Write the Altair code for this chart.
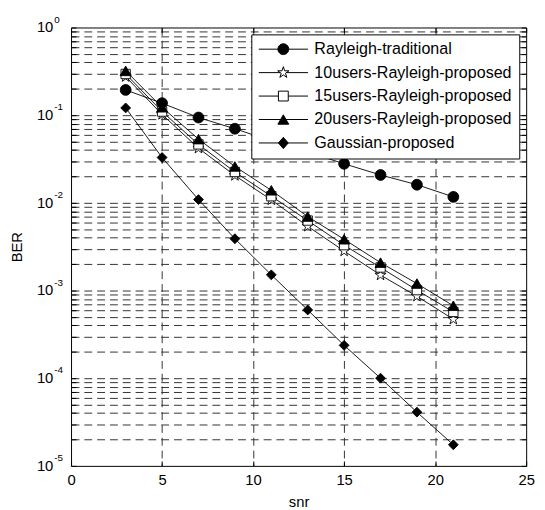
import math
import altair as alt
import pandas as pd

FONT = "Liberation Sans"

# ---------------- data ----------------
snr = [3, 5, 7, 9, 11, 13, 15, 17, 19, 21]
series_names = [
    "Rayleigh-traditional",
    "10users-Rayleigh-proposed",
    "15users-Rayleigh-proposed",
    "20users-Rayleigh-proposed",
    "Gaussian-proposed",
]
ber_rayleigh_traditional = [0.194, 0.137, 0.094, 0.070, 0.051, 0.038, 0.0279, 0.0208, 0.0161, 0.0117]
ber_10users = [0.275, 0.102, 0.042, 0.0205, 0.0108, 0.0054, 0.00282, 0.0015, 0.00086, 0.00047]
ber_15users = [0.295, 0.110, 0.0464, 0.0225, 0.0119, 0.00628, 0.00329, 0.00183, 0.00101, 0.00057]
ber_20users = [0.32, 0.123, 0.0533, 0.026, 0.0139, 0.00697, 0.00384, 0.00208, 0.0012, 0.00067]
ber_gaussian = [0.121, 0.0329, 0.0109, 0.0039, 0.00151, 0.0006, 0.000237, 0.0001, 4.1e-5, 1.74e-5]

x_ticks = [0, 5, 10, 15, 20, 25]
x_grid = [5, 10, 15, 20]
y_decades = [1e-5, 1e-4, 1e-3, 1e-2, 1e-1, 1.0]
y_exponents = ["-5", "-4", "-3", "-2", "-1", "0"]

rows = []
for name, vals in zip(series_names, [ber_rayleigh_traditional, ber_10users, ber_15users,
                                     ber_20users, ber_gaussian]):
    for x, v in zip(snr, vals):
        rows.append({"series": name, "snr": x, "ber": v})
df = pd.DataFrame(rows)
dec_df = pd.DataFrame({"ber": y_decades, "exp": y_exponents})

y_all = [m * 10.0 ** k for k in range(-5, 0) for m in range(1, 10)] + [1.0]
y_grid = [v for v in y_all if 1.5e-5 < v < 0.95]

# ---------------- shapes ----------------
def star_path(R):
    pts = []
    for i in range(10):
        a = math.radians(-90 + 36 * i)
        r = R if i % 2 == 0 else R * 0.382
        pts.append(f"{r * math.cos(a):.4f},{r * math.sin(a):.4f}")
    return "M" + "L".join(pts) + "Z"


def circle_path(R, n=28):
    pts = []
    for i in range(n):
        a = 2 * math.pi * i / n
        pts.append(f"{R * math.cos(a):.4f},{R * math.sin(a):.4f}")
    return "M" + "L".join(pts) + "Z"


def line_with_gap(g):
    return f"M-1,0L{-g},0M{g},0L1,0"

legend_paths = [
    "M-1,0L1,0" + circle_path(0.22),
    line_with_gap(0.13) + star_path(0.24),
    line_with_gap(0.2) + "M-0.2,-0.2L0.2,-0.2L0.2,0.2L-0.2,0.2Z",
    "M-1,0L1,0" + "M0,-0.19L-0.22,0.19L0.22,0.19Z",
    "M-1,0L1,0" + "M-0.2,0L0,-0.23L0.2,0L0,0.23Z",
]
legend_fills = ["black", "white", "white", "black", "black"]
legend_strokes = ["black"] * 5

point_styles = {
    "Rayleigh-traditional": dict(shape="circle", size=121, fill="black"),
    "10users-Rayleigh-proposed": dict(shape=star_path(1), size=140, fill="white"),
    "15users-Rayleigh-proposed": dict(shape="square", size=90, fill="white"),
    "20users-Rayleigh-proposed": dict(shape="triangle-up", size=125, fill="black"),
    "Gaussian-proposed": dict(shape="diamond", size=100, fill="black"),
}

# ---------------- encodings ----------------
xscale = alt.Scale(domain=[0, 25], nice=False, zero=False)
yscale = alt.Scale(type="log", domain=[1e-5, 1], nice=False)


def X(axis):
    return alt.X("snr:Q", scale=xscale, axis=axis)


def Y(axis):
    return alt.Y("ber:Q", scale=yscale, axis=axis)

GRID = dict(grid=True, ticks=False, labels=False, domain=False,
            gridDash=[8, 5], gridColor="#333333", gridWidth=1, gridOpacity=1)
TICKS = dict(grid=False, labels=False, domain=False, title=None,
             tickSize=5, offset=-5, tickColor="black", tickWidth=1)

grid_layer = alt.Chart(df).mark_point(opacity=0).transform_filter("false").encode(
    x=X(alt.Axis(orient="bottom", values=x_grid, title=None, **GRID)),
    y=Y(alt.Axis(orient="left", values=y_grid, title="BER", titlePadding=47, **GRID)),
)

t1 = alt.Chart(df).mark_point(opacity=0).transform_filter("false").encode(
    x=X(alt.Axis(orient="bottom", values=x_ticks, ticks=False, tickSize=0, labels=True,
                 labelPadding=7, labelFlush=False, domain=False, grid=False,
                 title="snr", titlePadding=7)),
    y=Y(alt.Axis(orient="left", values=y_all, **TICKS)),
)
t2 = alt.Chart(df).mark_point(opacity=0).transform_filter("false").encode(
    x=X(alt.Axis(orient="top", values=x_ticks, **TICKS)),
    y=Y(alt.Axis(orient="right", values=y_all, **TICKS)),
)
t3 = alt.Chart(df).mark_point(opacity=0).transform_filter("false").encode(
    x=X(alt.Axis(orient="bottom", values=x_ticks, **TICKS)),
    y=Y(None),
)

lines = alt.Chart(df).mark_line(color="black", strokeWidth=0.9).encode(
    x=X(None), y=Y(None), detail="series:N"
)

point_layers = []
for name in series_names:
    st = point_styles[name]
    point_layers.append(
        alt.Chart(df).transform_filter(alt.datum.series == name).mark_point(
            shape=st["shape"], size=st["size"], filled=True, fill=st["fill"],
            stroke="black", strokeWidth=0.9, opacity=1,
        ).encode(x=X(None), y=Y(None))
    )

ylab_base = alt.Chart(dec_df).mark_text(
    text="10", align="right", baseline="middle", font=FONT, fontSize=15, color="black"
).encode(x=alt.value(-18), y=Y(None))
ylab_exp = alt.Chart(dec_df).mark_text(
    align="left", baseline="middle", font=FONT, fontSize=10, color="black", dy=-8
).encode(x=alt.value(-17), y=Y(None), text="exp:N")

leg = alt.Legend(
    title=None, orient="none", legendX=183, legendY=7, padding=7,
    rowPadding=6.8, clipHeight=16,
    symbolSize=2500, symbolStrokeWidth=1, symbolOpacity=1,
    labelFont=FONT, labelFontSize=16.3, labelColor="black", labelLimit=400, labelOffset=6,
    strokeColor="black", fillColor="white", cornerRadius=0,
)
legend_layer = alt.Chart(df).mark_point(
    opacity=1, size=2500, strokeWidth=1
).transform_filter("false").encode(
    x=X(None), y=Y(None),
    shape=alt.Shape("series:N", scale=alt.Scale(domain=series_names, range=legend_paths), legend=leg),
    fill=alt.Fill("series:N", scale=alt.Scale(domain=series_names, range=legend_fills), legend=leg),
    stroke=alt.Stroke("series:N", scale=alt.Scale(domain=series_names, range=legend_strokes), legend=leg),
)

chart = alt.layer(
    grid_layer, t1, t2, t3, lines, *point_layers, ylab_base, ylab_exp, legend_layer
).resolve_axis(
    x="independent", y="independent"
).properties(
    width=462, height=445,
    padding={"left": 64, "top": 16, "right": 11, "bottom": 41},
    autosize=alt.AutoSizeParams(type="none"),
    background="white",
).configure_view(
    stroke="black", strokeWidth=1
).configure_axis(
    labelFont=FONT, labelFontSize=15, labelColor="black",
    titleFont=FONT, titleFontSize=15, titleFontWeight="normal", titleColor="black",
)

chart.save("out.html", embed_options={"renderer": "svg", "actions": False})
